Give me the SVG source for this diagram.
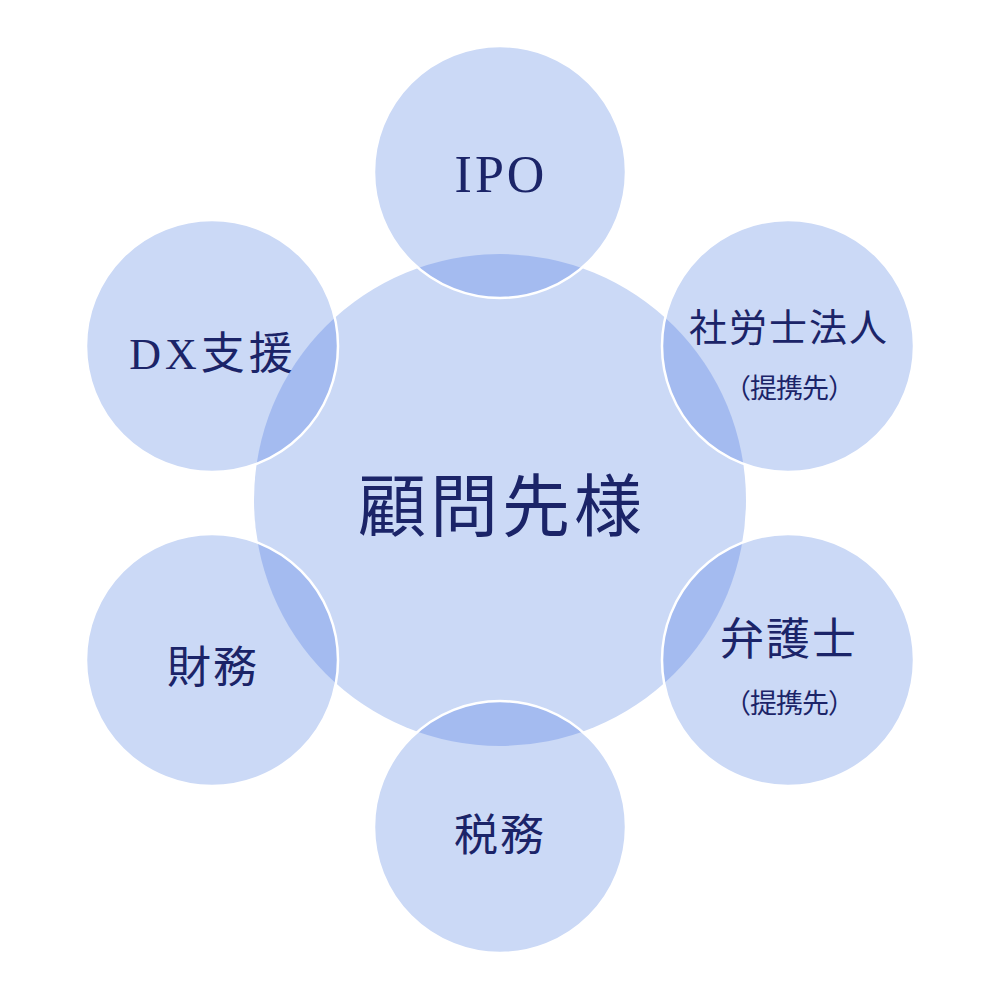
<svg xmlns="http://www.w3.org/2000/svg" width="1000" height="1000" viewBox="0 0 1000 1000">
<style>
.c{fill:#cbd9f6}
.ov{fill:#a4bbf0}
.st{fill:none;stroke:#ffffff;stroke-width:2.5}
text{font-family:"Liberation Serif","Noto Sans CJK JP",serif;fill:#1b2468;text-anchor:middle}
.m{font-size:44px;letter-spacing:2px}
.s{font-size:27px;letter-spacing:-1px}
</style>
<defs>
<clipPath id="cc"><circle cx="500" cy="500" r="246"/></clipPath>
</defs>
<rect width="1000" height="1000" fill="#ffffff"/>
<g id="center">
<circle class="c" cx="500" cy="500" r="246"/>
</g>
<g id="nodes-fill">
<circle class="c" cx="500" cy="172" r="126"/>
<circle class="c" cx="788" cy="346" r="126"/>
<circle class="c" cx="788" cy="660" r="126"/>
<circle class="c" cx="500" cy="827" r="126"/>
<circle class="c" cx="212" cy="660" r="126"/>
<circle class="c" cx="212" cy="346" r="126"/>
</g>
<g id="connectors" clip-path="url(#cc)">
<circle class="ov" cx="500" cy="172" r="126"/>
<circle class="ov" cx="788" cy="346" r="126"/>
<circle class="ov" cx="788" cy="660" r="126"/>
<circle class="ov" cx="500" cy="827" r="126"/>
<circle class="ov" cx="212" cy="660" r="126"/>
<circle class="ov" cx="212" cy="346" r="126"/>
</g>
<g id="outlines">
<circle class="st" cx="500" cy="172" r="126"/>
<circle class="st" cx="788" cy="346" r="126"/>
<circle class="st" cx="788" cy="660" r="126"/>
<circle class="st" cx="500" cy="827" r="126"/>
<circle class="st" cx="212" cy="660" r="126"/>
<circle class="st" cx="212" cy="346" r="126"/>
</g>
<g id="node-center"><text x="502" y="531" style="font-size:68px;letter-spacing:4px">顧問先様</text></g>
<g id="node-ipo"><text x="501" y="192" style="font-size:52px;letter-spacing:3px">IPO</text></g>
<g id="node-sharoushi"><text x="789" y="341" style="font-size:38px;letter-spacing:2px">社労士法人</text><text class="s" x="789" y="398">（提携先）</text></g>
<g id="node-bengoshi"><text class="m" x="789" y="655">弁護士</text><text class="s" x="789" y="713">（提携先）</text></g>
<g id="node-zeimu"><text class="m" x="500" y="851">税務</text></g>
<g id="node-zaimu"><text class="m" x="213" y="683">財務</text></g>
<g id="node-dx"><text x="213" y="369" style="font-size:44px;letter-spacing:4px">DX支援</text></g>
</svg>
